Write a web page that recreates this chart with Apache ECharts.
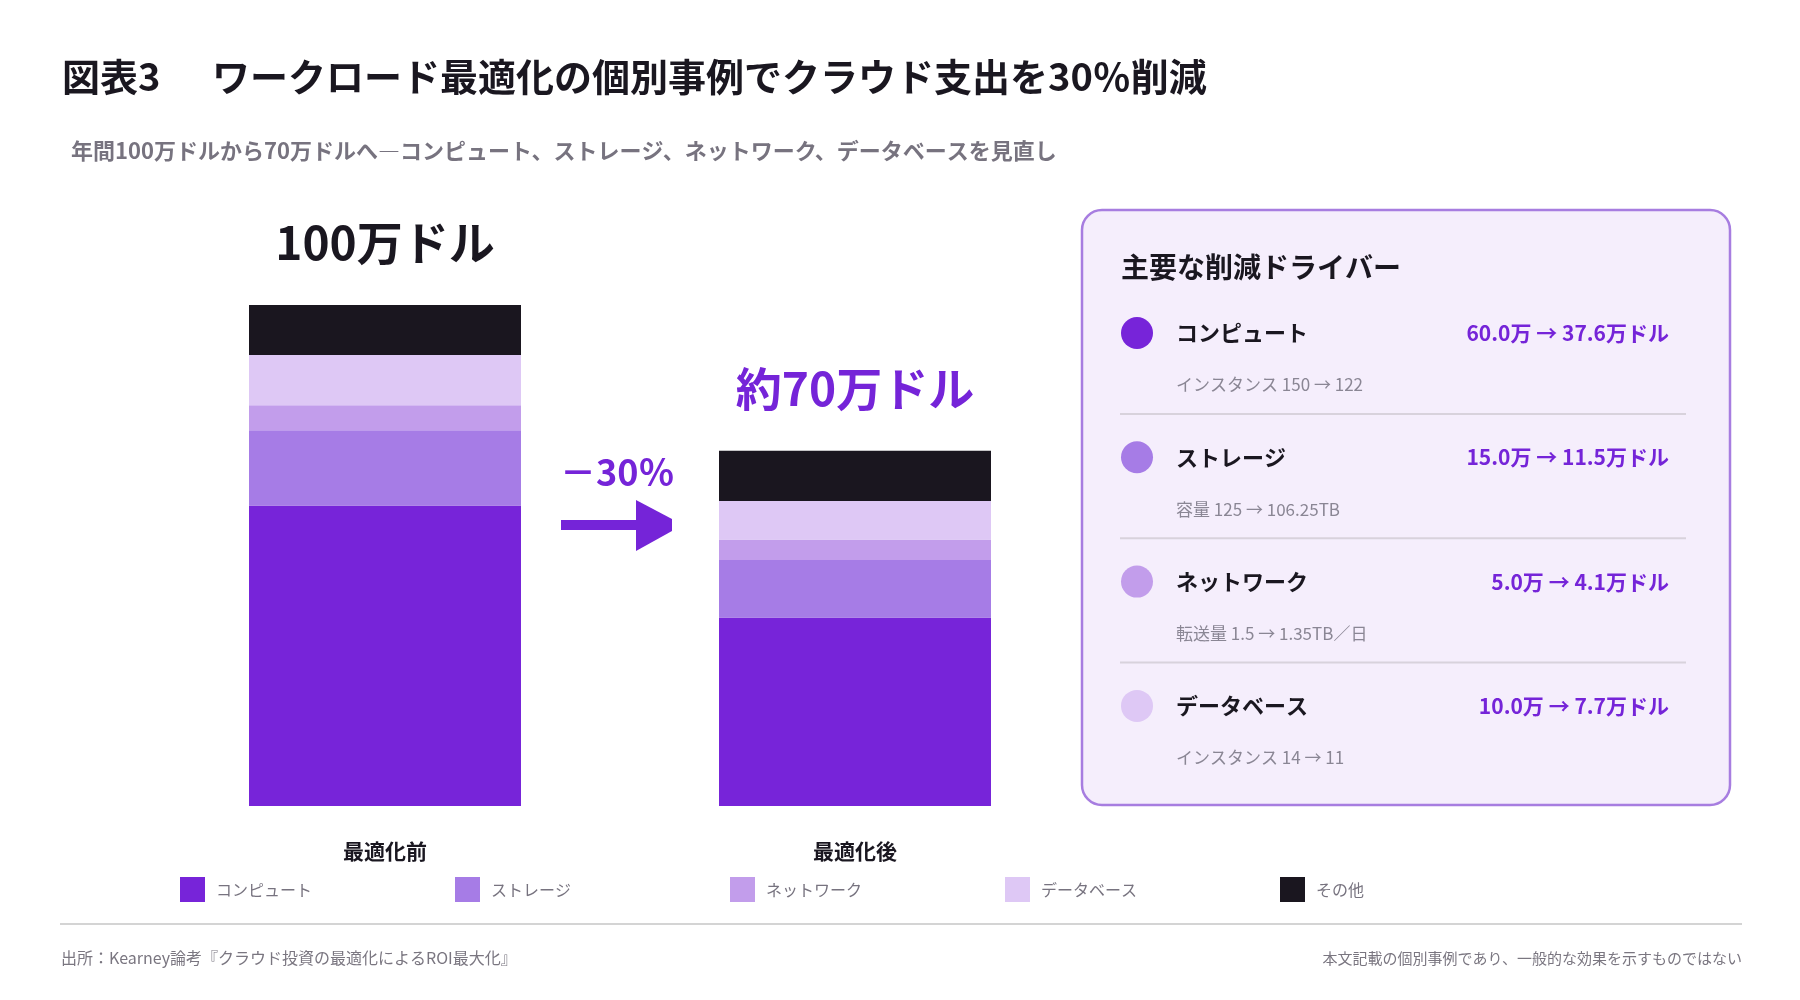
<!DOCTYPE html>
<html>
<head>
<meta charset="utf-8">
<script src="https://cdn.jsdelivr.net/npm/echarts@6/dist/echarts.min.js"></script>
<style>
html,body{margin:0;padding:0;background:#fff;}
#chart{width:1800px;height:1000px;}
</style>
</head>
<body>
<div id="chart"></div>
<script>
const categories = ['最適化前', '最適化後'];
const seriesNames = ['コンピュート', 'ストレージ', 'ネットワーク', 'データベース', 'その他'];
const compute = [60, 37.6];
const storage = [15, 11.5];
const network = [5, 4.1];
const database = [10, 7.7];
const other = [10, 10];
const totalLabels = ['100万ドル', '約70万ドル'];
const changeLabel = '－30％';
const driverNames = ['コンピュート', 'ストレージ', 'ネットワーク', 'データベース'];
const driverBefore = ['60.0万', '15.0万', '5.0万', '10.0万'];
const driverAfter = ['37.6万', '11.5万', '4.1万', '7.7万'];
const driverDetails = ['インスタンス 150 → 122', '容量 125 → 106.25TB', '転送量 1.5 → 1.35TB／日', 'インスタンス 14 → 11'];

const FONT = '"Noto Sans CJK JP", "Noto Sans", sans-serif';
const colors = ['#7724d9', '#a67ce6', '#c29deb', '#dec8f5', '#1a161f'];
const totalLabelColors = ['#1a1720', '#7524d8'];

const chart = echarts.init(document.getElementById('chart'));

const values = [compute, storage, network, database, other];
const series = seriesNames.map((name, i) => ({
  name: name,
  type: 'bar',
  stack: 'total',
  barWidth: 272,
  itemStyle: { color: colors[i] },
  emphasis: { disabled: true },
  data: values[i].map((v, j) => {
    if (i !== values.length - 1) return v;
    return {
      value: v,
      label: {
        show: true,
        position: 'top',
        distance: 39,
        formatter: totalLabels[j],
        color: totalLabelColors[j],
        fontSize: 46,
        fontWeight: 'bold',
        fontFamily: FONT
      }
    };
  })
}));

const legends = seriesNames.map((name, i) => ({
  data: [name],
  left: 180 + 275 * i,
  top: 877,
  padding: 0,
  itemWidth: 25,
  itemHeight: 25,
  icon: 'rect',
  selectedMode: false,
  textStyle: { color: '#77737f', fontSize: 16, fontFamily: FONT, padding: [0, 0, 0, 6] }
}));

const graphics = [];
// Titles
graphics.push({ type: 'text', style: { x: 62, y: 77, text: '図表3', font: 'bold 38px ' + FONT, fill: '#1a1720', textVerticalAlign: 'middle' } });
graphics.push({ type: 'text', style: { x: 212, y: 77, text: 'ワークロード最適化の個別事例でクラウド支出を30％削減', font: 'bold 38px ' + FONT, fill: '#1a1720', textVerticalAlign: 'middle' } });
graphics.push({ type: 'text', style: { x: 71, y: 151, text: '年間100万ドルから70万ドルへ―コンピュート、ストレージ、ネットワーク、データベースを見直し', font: 'bold 22px ' + FONT, fill: '#77737f', textVerticalAlign: 'middle' } });

// Arrow with change label
graphics.push({ type: 'text', style: { x: 560, y: 472, text: changeLabel, font: 'bold 36px ' + FONT, fill: '#7524d8', textVerticalAlign: 'middle' } });
graphics.push({ type: 'rect', shape: { x: 561, y: 520, width: 80, height: 10 }, style: { fill: '#7524d8' } });
graphics.push({ type: 'polygon', shape: { points: [[636, 500], [672, 519], [672, 531], [636, 551]] }, style: { fill: '#7524d8' } });

// Panel
graphics.push({ type: 'rect', shape: { x: 1082, y: 210, width: 648, height: 595, r: 20 }, style: { fill: '#f5eefc', stroke: '#a77de0', lineWidth: 2.5 } });
graphics.push({ type: 'text', style: { x: 1121, y: 267, text: '主要な削減ドライバー', font: 'bold 28px ' + FONT, fill: '#1a1720', textVerticalAlign: 'middle' } });
driverNames.forEach((name, i) => {
  const yc = 333 + 124.3 * i;
  graphics.push({ type: 'circle', shape: { cx: 1137, cy: yc, r: 16 }, style: { fill: colors[i] } });
  graphics.push({ type: 'text', style: { x: 1176, y: yc, text: name, font: 'bold 22px ' + FONT, fill: '#1a1720', textVerticalAlign: 'middle' } });
  graphics.push({ type: 'text', style: { x: 1669, y: yc, text: driverBefore[i] + ' → ' + driverAfter[i] + 'ドル', font: 'bold 21px ' + FONT, fill: '#7524d8', textAlign: 'right', textVerticalAlign: 'middle' } });
  graphics.push({ type: 'text', style: { x: 1176, y: yc + 52, text: driverDetails[i], font: '17px ' + FONT, fill: '#8a8694', textVerticalAlign: 'middle' } });
  if (i < driverNames.length - 1) {
    graphics.push({ type: 'rect', shape: { x: 1120, y: yc + 80, width: 566, height: 2 }, style: { fill: '#d8d2dc' } });
  }
});

// Footer
graphics.push({ type: 'rect', shape: { x: 60, y: 923, width: 1682, height: 2 }, style: { fill: '#d4d4d4' } });
graphics.push({ type: 'text', style: { x: 61, y: 958, text: '出所：Kearney論考『クラウド投資の最適化によるROI最大化』', font: '16px ' + FONT, fill: '#7a7680', textVerticalAlign: 'middle' } });
graphics.push({ type: 'text', style: { x: 1742, y: 958, text: '本文記載の個別事例であり、一般的な効果を示すものではない', font: '15px ' + FONT, fill: '#7a7680', textAlign: 'right', textVerticalAlign: 'middle' } });

chart.setOption({
  backgroundColor: '#ffffff',
  animation: false,
  textStyle: { fontFamily: FONT },
  grid: { left: 150, width: 940, top: 305, height: 501, containLabel: false },
  xAxis: {
    type: 'category',
    data: categories,
    axisLine: { show: false },
    axisTick: { show: false },
    axisLabel: { margin: 35, fontSize: 21, fontWeight: 'bold', color: '#1a1720', fontFamily: FONT }
  },
  yAxis: { type: 'value', min: 0, max: 100, show: false, splitLine: { show: false } },
  legend: legends,
  series: series,
  graphic: graphics
});
</script>
</body>
</html>
